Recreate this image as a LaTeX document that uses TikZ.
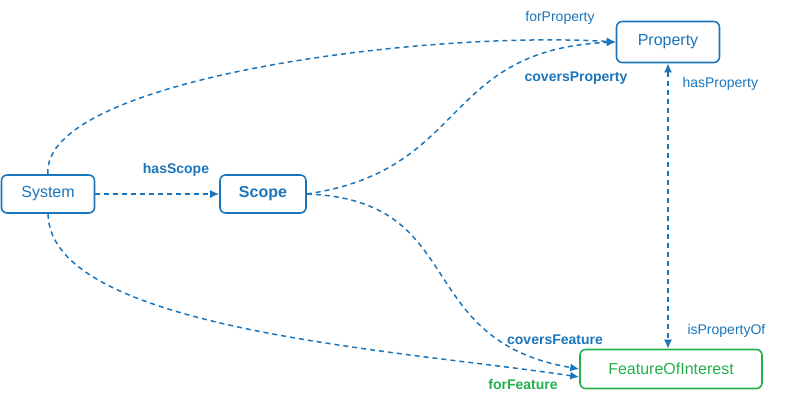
\documentclass[tikz,border=0pt]{standalone}
\usepackage{fontspec}
\setmainfont{Liberation Sans}
\usetikzlibrary{arrows.meta,positioning}
\definecolor{relColor}{HTML}{1A75BB}
\definecolor{foiColor}{HTML}{22B14C}
\tikzset{
	cls/.style={draw=relColor, text=relColor, rounded corners=2mm, line width=1.6pt,
		inner sep=0, minimum height=38pt, font=\fontsize{16}{18}\selectfont},
	rel/.style={draw=relColor, dash pattern=on 5pt off 4pt, line width=1.5pt,
		-{Latex[length=9pt,width=8pt]}},
	lab/.style={text=relColor, font=\fontsize{14}{16}\selectfont},
	blab/.style={lab, font=\fontsize{14}{16}\selectfont\bfseries}
}
\begin{document}
\begin{tikzpicture}[x=1pt,y=-1pt]
	\useasboundingbox (0,0) rectangle (800,407);
	\node[cls, minimum width=93pt] (sys) at (48,194) {System};
	\node[cls, minimum width=86pt, font=\fontsize{16}{18}\selectfont\bfseries] (scope) at (263,194) {Scope};
	\node[cls, minimum width=103pt, minimum height=41pt] (prop) at (668,42) {Property};
	\node[cls, minimum width=182pt, minimum height=39pt, draw=foiColor, text=foiColor] (foi) at (671,369) {FeatureOfInterest};
	% relations
	\draw[rel] (sys.north) .. controls (40,80) and (420,30) .. (prop.west);
	\draw[rel] (sys) -- (scope);
	\draw[rel] (scope.east) .. controls (470,170) and (440,50) .. (prop.west);
	\draw[rel] (scope.east) .. controls (470,200) and (410,340) .. (foi.west);
	\draw[rel] (sys.south) .. controls (50,330) and (400,350) .. ([yshift=-8pt]foi.west);
	\draw[rel, {Latex[length=9pt,width=8pt]}-{Latex[length=9pt,width=8pt]}] (prop) -- (prop |- foi.north);
	% labels
	\node[lab] (lforprop) at (560,18) {forProperty};
	\node[blab] (lhasscope) at (176,170) {hasScope};
	\node[blab] (lcovprop) at (576,78) {coversProperty};
	\node[blab] (lcovfeat) at (555,340) {coversFeature};
	\node[blab, text=foiColor] (lforfeat) at (523,384) {forFeature};
	\node[lab, anchor=west] (lhasprop) at (679,84) {hasProperty};
	\node[lab, anchor=west] (lispropof) at (684,331) {isPropertyOf};
\end{tikzpicture}
\end{document}
